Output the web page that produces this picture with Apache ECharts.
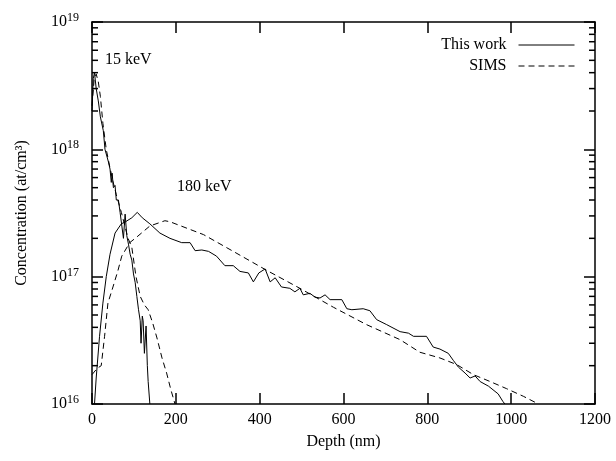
<!DOCTYPE html>
<html><head><meta charset="utf-8">
<script src="https://cdn.jsdelivr.net/npm/echarts@6/dist/echarts.min.js"></script>
<style>html,body{margin:0;padding:0;background:#fff}#c{width:616px;height:461px}</style>
</head><body><div id="c"></div>
<script>
const FONT = 'Liberation Serif';
const xTicks = [0, 200, 400, 600, 800, 1000, 1200];
const yDecadeExponents = [16, 17, 18, 19];

const work15Depth = [0, 3, 6, 10, 15, 20, 27, 31, 35, 39, 43, 46, 48, 51, 55, 58, 63, 67, 71, 75, 79, 83, 87, 91, 95, 99, 103, 107, 111, 115, 117, 120, 122, 125, 129, 132, 134, 138];
const work15Conc = [2.0e18, 3.6e18, 4.0e18, 3.0e18, 2.4e18, 1.8e18, 1.4e18, 1.0e18, 1.0e18, 8.0e17, 7.0e17, 5.5e17, 6.5e17, 5.0e17, 5.2e17, 4.0e17, 4.0e17, 3.2e17, 3.1e17, 2.0e17, 3.1e17, 2.1e17, 1.8e17, 1.5e17, 1.35e17, 1.05e17, 9.0e16, 7.0e16, 5.5e16, 4.5e16, 3.0e16, 4.9e16, 4.5e16, 2.5e16, 4.1e16, 2.0e16, 1.5e16, 1.0e16];

const sims15Depth = [0, 5, 10, 15, 20, 26, 34, 42, 50, 58, 70, 86, 95, 105, 115, 125, 134, 145, 155, 167, 178, 188, 198];
const sims15Conc = [2.2e18, 3.5e18, 3.9e18, 3.4e18, 2.6e18, 1.6e18, 1.0e18, 7.4e17, 5.6e17, 4.4e17, 3.2e17, 2.0e17, 1.7e17, 1.0e17, 7.0e16, 6.0e16, 5.5e16, 4.3e16, 3.3e16, 2.3e16, 1.75e16, 1.3e16, 1.0e16];

const work180Depth = [6, 10, 18, 26, 34, 43, 55, 70, 80, 95, 108, 120, 138, 162, 186, 214, 234, 246, 262, 278, 297, 317, 337, 353, 373, 385, 398, 413, 425, 437, 452, 472, 484, 496, 504, 520, 532, 544, 556, 568, 596, 608, 620, 647, 663, 679, 703, 735, 755, 767, 798, 814, 830, 850, 862, 874, 890, 902, 914, 926, 946, 969, 980, 985];
const work180Conc = [1.0e16, 1.6e16, 3.4e16, 6.2e16, 1.0e17, 1.5e17, 2.2e17, 2.6e17, 2.7e17, 2.9e17, 3.2e17, 2.9e17, 2.6e17, 2.2e17, 2.0e17, 1.85e17, 1.85e17, 1.6e17, 1.62e17, 1.58e17, 1.45e17, 1.22e17, 1.22e17, 1.1e17, 1.07e17, 9.1e16, 1.07e17, 1.15e17, 9.1e16, 9.8e16, 8.3e16, 8.1e16, 7.6e16, 8.1e16, 7.2e16, 7.4e16, 6.9e16, 6.8e16, 7.2e16, 6.6e16, 6.6e16, 5.6e16, 5.5e16, 5.6e16, 5.4e16, 4.6e16, 4.2e16, 3.7e16, 3.6e16, 3.4e16, 3.4e16, 2.8e16, 2.7e16, 2.5e16, 2.2e16, 1.95e16, 1.75e16, 1.6e16, 1.66e16, 1.5e16, 1.38e16, 1.2e16, 1.05e16, 1.0e16];

const sims180Depth = [0, 12, 22, 30, 38, 50, 62, 71, 90, 107, 138, 174, 186, 266, 337, 417, 496, 576, 655, 735, 782, 830, 870, 910, 950, 989, 1029, 1065];
const sims180Conc = [1.7e16, 1.9e16, 2.0e16, 3.4e16, 6.2e16, 8.3e16, 1.12e17, 1.45e17, 1.85e17, 2.05e17, 2.5e17, 2.75e17, 2.7e17, 2.14e17, 1.58e17, 1.12e17, 8.1e16, 5.75e16, 4.2e16, 3.2e16, 2.55e16, 2.3e16, 2.04e16, 1.7e16, 1.5e16, 1.32e16, 1.15e16, 1.0e16];

const legendNames = ['This work', 'SIMS'];
const annotations = ['15 keV', '180 keV'];

const zip = (xs, ys) => xs.map((x, i) => [x, ys[i]]);
const chart = echarts.init(document.getElementById('c'), null, { renderer: 'canvas' });

const black = '#000';
const clear = 'rgba(0,0,0,0)';
const axisLineStyle = { color: black, width: 1.5 };
const yBase = { type: 'log', logBase: 10, min: Math.pow(10, yDecadeExponents[0]), max: Math.pow(10, yDecadeExponents[yDecadeExponents.length - 1]), splitLine: { show: false }, minorTick: { show: false } };
const xBase = { type: 'value', min: xTicks[0], max: xTicks[xTicks.length - 1], interval: xTicks[1] - xTicks[0], splitLine: { show: false } };

const solid = { color: black, width: 1, type: 'solid' };
const dashed = { color: black, width: 1, type: [6, 4] };
function lineSeries(name, data, style) {
  return { type: 'line', name, data, showSymbol: false, symbol: 'none', lineStyle: style, itemStyle: { color: black }, animation: false, xAxisIndex: 0, yAxisIndex: 0, z: 3 };
}

const option = {
  animation: false,
  backgroundColor: '#fff',
  grid: { left: 92, right: 21, top: 22, bottom: 57, outerBoundsMode: 'none' },
  xAxis: [
    Object.assign({}, xBase, {
      position: 'bottom',
      axisLine: { show: true, onZero: false, lineStyle: axisLineStyle },
      axisTick: { show: true, inside: true, length: 11, lineStyle: axisLineStyle },
      axisLabel: { show: true, margin: 8, color: black, fontFamily: FONT, fontSize: 16, formatter: v => String(v) },
      name: 'Depth (nm)', nameLocation: 'middle', nameGap: 30,
      nameTextStyle: { color: black, fontFamily: FONT, fontSize: 16 }
    }),
    Object.assign({}, xBase, {
      position: 'top',
      axisLine: { show: true, onZero: false, lineStyle: axisLineStyle },
      axisTick: { show: true, inside: true, length: 11, lineStyle: axisLineStyle },
      axisLabel: { show: false }
    })
  ],
  yAxis: [
    Object.assign({}, yBase, {
      position: 'left',
      axisLine: { show: true, onZero: false, lineStyle: axisLineStyle },
      axisTick: { show: true, inside: true, length: 11, lineStyle: axisLineStyle },
      axisLabel: {
        show: true, margin: 13, color: black,
        formatter: v => '{b|10}{s|' + Math.round(Math.log10(v)) + '}',
        rich: {
          b: { fontFamily: FONT, fontSize: 16, color: black, lineHeight: 20 },
          s: { fontFamily: FONT, fontSize: 12, color: black, verticalAlign: 'top', lineHeight: 12 }
        }
      },
      name: 'Concentration (at/cm\u00B3)', nameLocation: 'middle', nameGap: 62, nameRotate: 90,
      nameTextStyle: { color: black, fontFamily: FONT, fontSize: 16 }
    }),
    Object.assign({}, yBase, {
      position: 'right',
      axisLine: { show: true, onZero: false, lineStyle: axisLineStyle },
      axisTick: { show: true, inside: true, length: 11, lineStyle: axisLineStyle },
      axisLabel: { show: false }
    })
  ],
  legend: {
    data: legendNames,
    orient: 'vertical', right: 36, top: 32, align: 'right',
    itemWidth: 56, itemHeight: 14, itemGap: 5,
    textStyle: { color: black, fontFamily: FONT, fontSize: 16, padding: [0, 7, 0, 0] },
    itemStyle: { color: clear, borderColor: clear, borderWidth: 0, opacity: 0 },
    lineStyle: { width: 1, color: black },
    inactiveColor: black
  },
  series: [
    lineSeries(legendNames[0], zip(work15Depth, work15Conc), solid),
    lineSeries(legendNames[1], zip(sims15Depth, sims15Conc), dashed),
    lineSeries(legendNames[0], zip(work180Depth, work180Conc), solid),
    lineSeries(legendNames[1], zip(sims180Depth, sims180Conc), dashed)
  ]
};
chart.setOption(option);

// minor log ticks (2..9 per decade) on left and right, positioned via the axis scale
const minorValues = [];
for (let i = 0; i < yDecadeExponents.length - 1; i++) {
  for (let k = 2; k <= 9; k++) minorValues.push(k * Math.pow(10, yDecadeExponents[i]));
}
const xl = chart.convertToPixel({ xAxisIndex: 0 }, xTicks[0]);
const xr = chart.convertToPixel({ xAxisIndex: 0 }, xTicks[xTicks.length - 1]);
const graphics = [];
minorValues.forEach(v => {
  const y = chart.convertToPixel({ yAxisIndex: 0 }, v);
  graphics.push({ type: 'line', shape: { x1: xl, y1: y, x2: xl + 6, y2: y }, style: { stroke: black, lineWidth: 1.5 }, z: 10 });
  graphics.push({ type: 'line', shape: { x1: xr - 6, y1: y, x2: xr, y2: y }, style: { stroke: black, lineWidth: 1.5 }, z: 10 });
});
graphics.push({ type: 'text', left: 105, top: 52, style: { text: annotations[0], fill: black, font: '16px "Liberation Serif"' }, z: 10 });
graphics.push({ type: 'text', left: 177, top: 179, style: { text: annotations[1], fill: black, font: '16px "Liberation Serif"' }, z: 10 });
chart.setOption({ graphic: graphics });
</script>
</body></html>
